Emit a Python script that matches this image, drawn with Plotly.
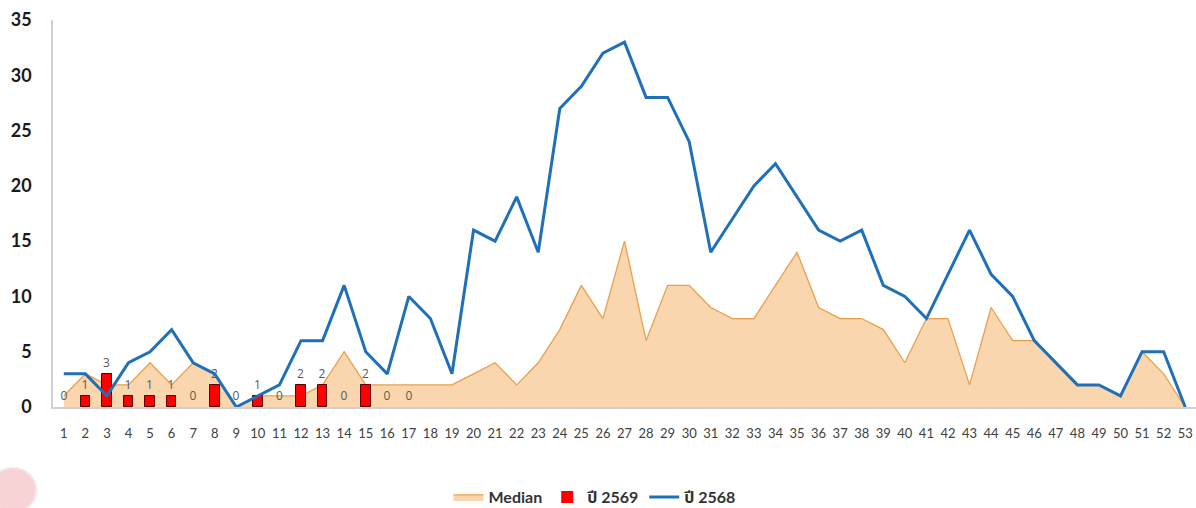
import plotly.graph_objects as go

weeks = list(range(1, 54))
week_labels = [str(w) for w in weeks]

median = [1, 3, 2, 2, 4, 2, 4, 3, 0, 1, 1, 1, 2, 5, 2, 2, 2, 2, 2, 3,
          4, 2, 4, 7, 11, 8, 15, 6, 11, 11, 9, 8, 8, 11, 14, 9, 8, 8, 7, 4,
          8, 8, 2, 9, 6, 6, 4, 2, 2, 1, 5, 3, 0]

y2568 = [3, 3, 1, 4, 5, 7, 4, 3, 0, 1, 2, 6, 6, 11, 5, 3, 10, 8, 3, 16,
         15, 19, 14, 27, 29, 32, 33, 28, 28, 24, 14, 17, 20, 22, 19, 16, 15, 16, 11, 10,
         8, 12, 16, 12, 10, 6, 4, 2, 2, 1, 5, 5, 0]

weeks2569 = list(range(1, 18))
y2569 = [0, 1, 3, 1, 1, 1, 0, 2, 0, 1, 0, 2, 2, 0, 2, 0, 0]

L, R, T, B = 53, 0, 20, 101
W, H = 1196, 508
pw, ph = W - L - R, H - T - B

fig = go.Figure()

fig.add_trace(go.Scatter(
    x=weeks, y=median, name="Median", mode="lines",
    line=dict(color="#E8A04E", width=1.3),
    fill="tozeroy", fillcolor="#F9D6AE",
    legendrank=1,
))

fig.add_trace(go.Bar(
    x=weeks2569, y=y2569, name="ปี 2569",
    marker=dict(color="#FF0000",
                line=dict(color="#5a0000", width=[1 if v > 0 else 0 for v in y2569])),
    width=0.45,
    text=[str(v) for v in y2569], textposition="outside",
    textfont=dict(family="Open Sans, Noto Sans Thai, sans-serif", size=12, color="#595959"),
    cliponaxis=False,
    xaxis="x2", yaxis="y2",
    legendrank=2,
))

fig.add_trace(go.Scatter(
    x=weeks, y=y2568, name="ปี 2568", mode="lines",
    line=dict(color="#1F70B8", width=3),
    xaxis="x3", yaxis="y3",
    legendrank=3,
))

axis_font = dict(family="Lato, Open Sans, sans-serif", size=13, color="#404040")

fig.update_layout(
    width=W, height=H,
    margin=dict(l=L, r=R, t=T, b=B, autoexpand=False),
    paper_bgcolor="white", plot_bgcolor="white",
    bargap=0,
    xaxis=dict(
        range=[0.5, 53.5], tickmode="array", tickvals=weeks, ticktext=week_labels,
        showgrid=False, zeroline=False,
        showline=True, linecolor="#D0D0D0", linewidth=1.5,
        ticks="outside", ticklen=14, tickcolor="rgba(0,0,0,0)",
        tickfont=axis_font, fixedrange=True, automargin=False,
    ),
    yaxis=dict(
        range=[0, 35], tickvals=[0, 5, 10, 15, 20, 25, 30, 35],
        showgrid=False, zeroline=False,
        showline=True, linecolor="#D0D0D0", linewidth=1.5,
        ticks="outside", ticklen=16, tickcolor="rgba(0,0,0,0)",
        tickfont=dict(family="Lato, Open Sans, sans-serif", size=18, color="#1a1a1a", weight="bold"),
        automargin=False,
    ),
    xaxis2=dict(range=[0.5, 53.5], overlaying="x", visible=False),
    yaxis2=dict(range=[0, 35], overlaying="y", visible=False),
    xaxis3=dict(range=[0.5, 53.5], overlaying="x", visible=False),
    yaxis3=dict(range=[0, 35], overlaying="y", visible=False),
    legend=dict(
        orientation="h", x=(595 - L) / pw, xanchor="center",
        y=(T + ph - 497) / ph, yanchor="middle",
        font=dict(family="Lato, Noto Sans Thai, Open Sans, sans-serif", size=16, color="#333333", weight="bold"),
        traceorder="normal", itemwidth=30,
    ),
    showlegend=True,
)

# decorative pink logo fragment at bottom-left corner
def px_x(p):
    return (p - L) / pw

def px_y(p):
    return (T + ph - p) / ph

fig.add_shape(type="circle", xref="paper", yref="paper",
              x0=px_x(-10), x1=px_x(36), y0=px_y(512), y1=px_y(468),
              fillcolor="#F8D3D6", line=dict(color="#F3E3E4", width=2), layer="below")

fig.write_html("out.html",
               config={"displayModeBar": False},
               post_script="document.body.style.margin='0';document.body.style.overflow='hidden';")
